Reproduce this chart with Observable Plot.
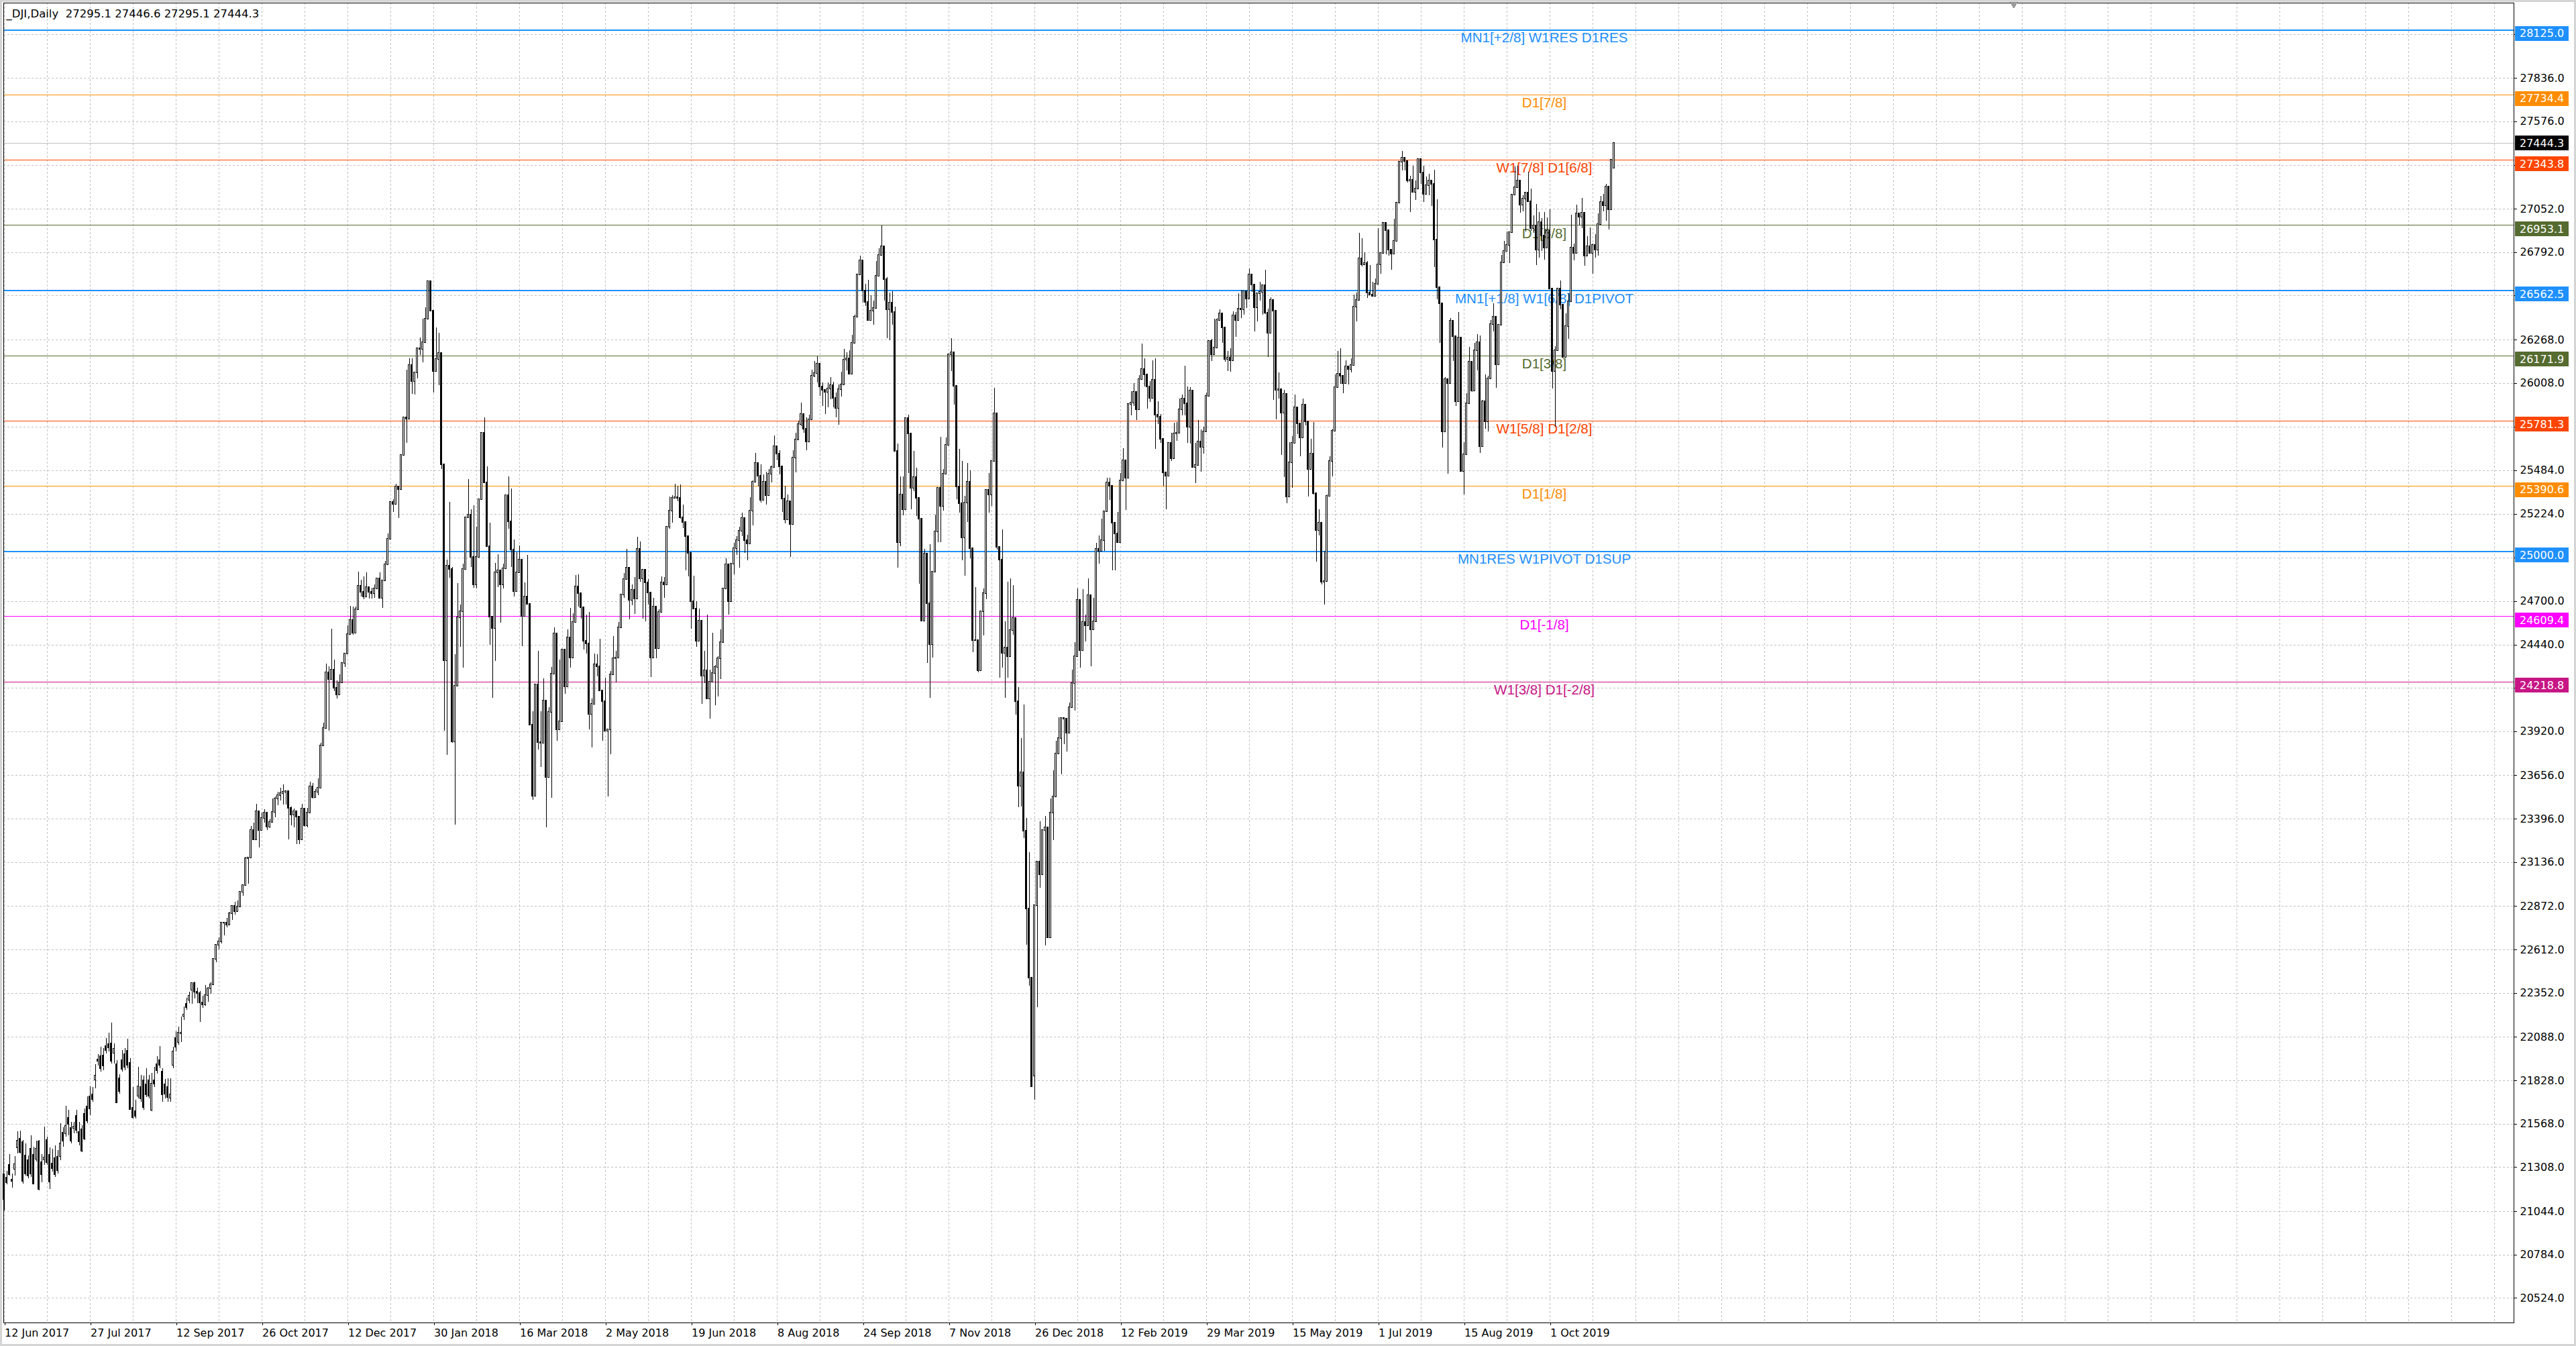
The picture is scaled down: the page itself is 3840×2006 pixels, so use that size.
<!DOCTYPE html>
<html>
<head>
<meta charset="utf-8">
<script src="https://cdn.jsdelivr.net/npm/d3@7"></script>
<script src="https://cdn.jsdelivr.net/npm/@observablehq/plot@0.6"></script>
<style>
  html, body { margin: 0; padding: 0; background: #ffffff; overflow: hidden; }
  #chart svg { display: block; outline: 3px solid #d4d4d4; outline-offset: -3px; }
</style>
</head>
<body>
<div id="chart"></div>
<script>
// ---------- DATA ----------
const titleText = "_DJI,Daily\u00a0\u00a027295.1 27446.6 27295.1 27444.3";

// Daily bars [open, high, low, close], one per trading bar, in chart order
const bars2017 = [
[21264,21264,21050,21117],[21244,21285,21204,21218],[21321,21385,21258,21265],[21233,21271,21187,21224],[21298,21374,21258,21325],
[21425,21523,21392,21466],[21479,21526,21390,21399],[21459,21470,21210,21224],[21378,21450,21258,21271],[21352,21380,21240,21258],
[21419,21498,21250,21271],[21383,21432,21204,21211],[21358,21468,21340,21419],[21463,21472,21171,21177],[21338,21385,21218,21267],
[21356,21553,21320,21365],[21470,21492,21320,21338],[21383,21425,21177,21222],[21329,21419,21280,21302],[21361,21439,21250,21267],
[21372,21412,21270,21291],[21374,21570,21350,21452],[21513,21546,21432,21466],[21510,21674,21490,21557],[21603,21653,21499,21569],
[21542,21580,21450,21468],[21543,21580,21510,21553],[21616,21653,21510,21530],[21517,21580,21440,21463],[21535,21560,21400,21405],
[21627,21660,21470,21479],[21670,21734,21570,21586],[21731,21794,21620,21660],[21745,21790,21700,21714],[21831,21924,21781,21855],
[21952,21986,21915,21946],[21973,22029,21882,21902],[21979,22020,21890,21915],[22034,22083,21990,22009],[22045,22112,22000,22026],
[22048,22174,21930,21946],[21992,22049,21929,22016],[21927,21950,21690,21696],[21840,21865,21750,21765],[21949,22009,21880,21898],
[21985,22022,21890,21908],[22005,22076,21900,21919],[21935,21962,21653,21656],[21663,21788,21600,21609],[21643,21710,21600,21616],
[21737,21908,21720,21794],[21788,21861,21700,21721],[21830,21855,21653,21667],[21804,21902,21730,21745],[21830,21860,21720,21737],
[21653,21871,21643,21810],[21828,21908,21790,21808],[21924,21975,21870,21888],[21949,22032,21900,21922],[21879,21900,21700,21745],
[21804,21836,21720,21750],[21790,21841,21700,21727],[21725,21841,21700,21744],[21919,22030,21900,22002],[22080,22123,22000,22029],
[22059,22150,22040,22116],[22110,22210,22056,22112],[22213,22270,22190,22221],[22287,22324,22250,22268],[22311,22360,22290,22335],
[22370,22413,22286,22412],[22412,22419,22321,22359],[22359,22382,22290,22350],[22350,22365,22179,22296],[22296,22336,22262,22284],
[22284,22399,22274,22341],[22341,22386,22299,22381],[22381,22415,22347,22405],[22405,22557,22405,22557],[22557,22642,22535,22642],
[22642,22685,22612,22661],[22661,22777,22649,22775],[22775,22779,22698,22774],[22774,22803,22745,22761],[22761,22839,22761,22831],
[22831,22873,22791,22873],[22873,22899,22821,22841],[22841,22905,22841,22871],[22871,22961,22871,22957],[22957,23003,22934,22997],
[22997,23167,22997,23158],[23158,23163,23006,23163],[23163,23353,23163,23329],[23329,23372,23270,23274],[23274,23485,23274,23442],
[23442,23442,23223,23330],[23330,23433,23330,23401],[23401,23451,23373,23434],[23434,23434,23327,23349],[23349,23393,23342,23377],
[23377,23519,23377,23436],[23436,23531,23405,23517],[23517,23557,23478,23539],[23539,23581,23505,23549],[23549,23602,23483,23557],
[23557,23565,23482,23563],[23563,23563,23271,23462],[23462,23468,23355,23422],[23422,23455,23346,23440],[23440,23440,23242,23410],
[23410,23410,23242,23272],[23272,23485,23272,23458],[23458,23458,23349,23358],[23358,23460,23344,23431],[23431,23617,23431,23591],
[23591,23608,23516,23527],[23527,23573,23527,23558],[23558,23638,23538,23580],[23580,23849,23580,23836],[23836,23970,23836,23940],
[23940,24327,23940,24272],[24272,24308,23922,24232],[24232,24534,24232,24290],[24290,24349,24161,24181],[24181,24224,24115,24140],
[24140,24262,24140,24212],[24212,24330,24212,24329],[24329,24388,24306,24386],[24386,24553,24386,24504],[24504,24671,24504,24585],
[24585,24669,24500,24509],[24509,24668,24509,24652],[24652,24876,24652,24792],[24792,24828,24726,24754],[24754,24850,24710,24726],
[24726,24874,24726,24782],[24782,24784,24715,24754],[24754,24778,24715,24746],[24746,24800,24719,24775],[24775,24840,24774,24838],
[24838,24872,24719,24719]
];
const bars2018 = [
[24719,24824,24660,24824],[24824,24942,24822,24922],[24922,25105,24922,25075],[25075,25299,25075,25296],[25296,25311,25236,25283],
[25283,25405,25283,25386],[25386,25386,25199,25370],[25370,25575,25370,25575],[25575,25804,25575,25803],[25803,26086,25648,25792],
[25792,26153,25792,26116],[26116,26154,25943,26017],[26017,26072,25939,26072],[26072,26215,26033,26215],[26215,26280,26177,26211],
[26211,26392,26129,26252],[26252,26459,26250,26393],[26393,26617,26393,26617],[26617,26617,26435,26440],[26440,26440,25950,26077],
[26077,26338,26077,26149],[26149,26306,25995,26187],[26187,26187,25490,25521],[25521,25521,23923,24346],[24346,24947,23778,24913],
[24913,25294,24842,24893],[24893,24904,23850,23860],[23860,24382,23360,24191],[24191,24809,24191,24601],[24601,24681,24424,24640],
[24640,24924,24301,24893],[24893,25203,24893,25201],[25201,25433,25198,25219],[25219,25251,24904,24965],[24965,25273,24779,24798],
[24798,25145,24777,24963],[24963,25310,24963,25310],[25310,25710,25310,25710],[25710,25800,25406,25410],[25410,25506,25024,25029],
[25029,25170,24437,24608],[24608,24608,24122,24538],[24538,24929,24340,24874],[24874,24981,24785,24884],[24884,24884,24569,24801],
[24801,24923,24776,24895],[24895,25336,24895,25336],[25336,25449,25132,25179],[25179,25376,24906,25008],[25008,25070,24726,24759],
[24759,24992,24759,24874],[24874,25034,24874,24947],[24947,24947,24430,24611],[24611,24812,24611,24727],[24727,24977,24683,24683],
[24683,24683,23958,23958],[23958,24040,23510,23533],[23533,24202,23533,24202],[24202,24402,23810,23857],[23857,24038,23708,23849],
[23849,24237,23849,24103],[24103,24103,23344,23644],[23644,24066,23644,24034],[24034,24305,23523,24264],[24264,24541,24264,24505],
[24505,24505,23863,23933],[23933,24351,23933,23979],[23979,24408,23979,24408],[24408,24408,24146,24190],[24190,24532,24190,24483],
[24483,24660,24302,24360],[24360,24626,24360,24573],[24573,24858,24573,24786],[24786,24859,24667,24748],[24748,24748,24594,24665],
[24665,24665,24411,24463],[24463,24621,24385,24448],[24448,24636,23930,24024],[24024,24116,23824,24084],[24084,24386,24084,24323],
[24323,24382,24250,24311],[24311,24475,24163,24163],[24163,24163,23863,24100],[24100,24243,23925,23925],[23925,23930,23531,23930],
[23930,24280,23782,24263],[24263,24491,24263,24357],[24357,24400,24212,24361],[24361,24576,24361,24543],[24543,24742,24543,24740],
[24740,24868,24721,24831],[24831,25012,24831,24900],[24900,24900,24589,24706],[24706,24800,24674,24769],[24769,24846,24622,24714],
[24714,25086,24714,25013],[25013,25057,24815,24835],[24835,24889,24596,24887],[24887,24887,24577,24812],[24812,24832,24679,24753],
[24753,24753,24246,24362],[24362,24720,24362,24668],[24668,24668,24359,24416],[24416,24653,24416,24635],[24635,24848,24635,24814],
[24814,24844,24720,24800],[24800,25146,24800,25146],[25146,25326,25134,25241],[25241,25336,25171,25317],[25317,25402,25317,25323],
[25323,25392,25297,25320],[25320,25400,25195,25201],[25201,25278,25137,25175],[25175,25175,24884,25090],[25090,25090,24848,24988],
[24988,24988,24533,24701],[24701,24853,24650,24657],[24657,24698,24424,24462],[24462,24657,24462,24581],[24581,24581,24084,24253],
[24253,24401,24207,24284],[24284,24618,24117,24117],[24117,24288,23997,24216],[24216,24509,24216,24271],[24271,24317,24077,24307],
[24307,24369,24130,24357],[24357,24530,24234,24456],[24456,24777,24456,24776],[24776,24957,24776,24920],[24920,24920,24620,24700],
[24700,24925,24700,24925],[24925,25051,24859,25019],[25019,25088,24977,25064],[25064,25144,24900,25120],[25120,25232,25090,25199],
[25199,25199,24990,25065],[25065,25098,24946,25044],[25044,25324,25044,25242],[25242,25423,25153,25415],[25415,25587,25415,25528],
[25528,25532,25387,25451],[25451,25521,25292,25307],[25307,25458,25307,25415],[25415,25477,25280,25333],[25333,25490,25333,25463],
[25463,25512,25410,25502],[25502,25692,25502,25629],[25629,25634,25542,25584],[25584,25606,25459,25509],[25509,25509,25236,25313],
[25313,25389,25164,25188],[25188,25340,25188,25300],[25300,25300,24965,25162],[25162,25604,25162,25559],[25559,25710,25470,25669],
[25669,25781,25669,25759],[25759,25888,25750,25822],[25822,25822,25709,25733],[25733,25801,25605,25656],[25656,25819,25656,25790],
[25790,26086,25790,26050],[26050,26137,26041,26065],[26065,26167,26010,26124],[26124,26124,25928,25987],[25987,26009,25868,25965],
[25965,25965,25822,25953],[25953,26010,25861,25975],[25975,26044,25910,25996],[25996,26013,25860,25917],[25917,25948,25800,25857],
[25857,25997,25758,25971],[25971,26073,25924,25999],[25999,26211,25999,26145],[26145,26193,26081,26155],[26155,26202,26062,26062],
[26062,26294,26062,26247],[26247,26415,26247,26406],[26406,26657,26406,26657],[26657,26770,26657,26744],[26744,26744,26490,26562],
[26562,26602,26467,26492],[26492,26626,26385,26385],[26385,26534,26385,26440],[26440,26499,26358,26458],[26458,26738,26458,26651],
[26651,26813,26651,26774],[26774,26952,26774,26828],[26828,26828,26501,26628],[26628,26641,26277,26447],[26447,26551,26262,26487],
[26487,26559,26356,26431],[26431,26466,25599,25599],[25599,25643,24899,25053],[25053,25447,25030,25340],[25340,25446,25216,25250],
[25250,25799,25250,25798],[25798,25819,25468,25706],[25706,25706,25250,25380],[25380,25599,25358,25444],[25444,25500,25210,25317],
[25317,25317,24804,25192],[25192,25194,24583,24583],[24583,25014,24583,24985],[24985,24985,24329,24688],[24688,25040,24122,24443],
[24443,24875,24363,24875],[24875,25217,24875,25116],[25116,25380,25053,25380],[25380,25683,25054,25271],[25271,25492,25244,25462],
[25462,25680,25462,25636],[25636,26181,25636,26181],[26181,26277,26079,26191],[26191,26191,25877,25989],[25989,25989,25310,25388],
[25388,25614,25231,25287],[25287,25541,24946,25081],[25081,25329,24851,25290],[25290,25526,25173,25414],[25414,25482,24957,25018],
[25018,25018,24394,24465],[24465,24782,24465,24465],[24465,24466,24274,24286],[24286,24640,24286,24640],[24640,24774,24493,24749],
[24749,25366,24712,25366],[25366,25468,25230,25339],[25339,25538,25269,25538],[25538,25980,25538,25826],[25826,25826,25011,25027],
[25027,25027,24242,24947],[24947,25128,24301,24389],[24389,24579,24122,24423],[24423,24817,24241,24371],[24371,24835,24371,24527],
[24527,24795,24500,24597],[24597,24597,24018,24101],[24101,24185,23464,23592],[23592,23881,23470,23675],[23675,24080,23282,23324],
[23324,23400,22640,22859],[22859,23195,22397,22445],[22445,22445,21792,21792],[21857,22878,21712,22878],[22878,23139,22267,23139],
[23139,23381,22981,23062],[23062,23333,23062,23327]
];
const bars2019 = [
[23327,23413,22638,23346],[23346,23346,22686,22686],[22686,23518,22686,23433],[23433,23687,23266,23531],[23531,23865,23531,23787],
[23787,24002,23787,23879],[23879,24004,23662,24001],[24001,24001,23842,23996],[23996,23996,23798,23910],[23910,24092,23910,24066],
[24066,24288,24066,24207],[24207,24456,24044,24370],[24370,24777,24370,24706],[24706,24706,24301,24405],[24405,24772,24405,24575],
[24575,24617,24457,24554],[24554,24835,24554,24737],[24737,24737,24309,24529],[24529,24721,24529,24580],[24580,25048,24580,25015],
[25015,25093,24923,24999],[24999,25193,24999,25064],[25064,25239,25000,25239],[25239,25440,25239,25411],[25411,25441,25307,25391],
[25391,25391,24883,25169],[25169,25169,24883,25106],[25106,25233,25053,25053],[25053,25467,25053,25425],[25425,25618,25425,25544],
[25544,25544,25248,25439],[25439,25883,25439,25883],[25883,25959,25812,25891],[25891,26005,25869,25954],[25954,25954,25787,25851],
[25851,26053,25851,26031],[26031,26242,26031,26092],[26092,26156,25986,26057],[26057,26057,25854,25986],[25986,26019,25893,25916],
[25916,26143,25916,26026],[26026,26155,25611,25819],[25819,25896,25762,25806],[25806,25821,25650,25673],[25673,25673,25393,25473],
[25473,25473,25252,25450],[25450,25650,25450,25650],[25650,25710,25541,25555],[25555,25768,25555,25703],[25703,25772,25659,25709],
[25709,25914,25709,25849],[25849,25936,25812,25914],[25914,26110,25814,25887],[25887,25986,25648,25746],[25746,25982,25645,25963],
[25963,25963,25502,25502],[25502,25649,25409,25516],[25516,25787,25516,25658],[25658,25730,25476,25626],[25626,25745,25582,25717],
[25717,25949,25717,25929],[25929,26258,25929,26258],[26258,26270,26140,26180],[26180,26393,26180,26218],[26218,26396,26218,26385],
[26385,26447,26385,26425],[26425,26425,26247,26341],[26341,26341,26136,26150],[26150,26200,26080,26157],[26157,26216,26075,26143],
[26143,26435,26143,26412],[26412,26432,26285,26384],[26384,26545,26384,26453],[26453,26565,26395,26450],[26450,26559,26416,26559],
[26559,26559,26455,26512],[26512,26695,26512,26656],[26656,26656,26552,26598],[26598,26598,26314,26462],[26462,26551,26375,26543],
[26543,26615,26502,26554],[26554,26596,26417,26593],[26593,26687,26420,26430],[26430,26454,26164,26308],[26308,26521,26308,26505],
[26505,26505,25905,26439],[26439,26439,25788,25965],[25965,26071,25912,25968],[25968,25968,25574,25829],[25829,25965,25444,25942],
[25942,25942,25285,25325],[25325,25653,25325,25532],[25532,25689,25378,25648],[25648,25939,25648,25863],[25863,25863,25700,25764],
[25764,25764,25566,25680],[25680,25913,25680,25877],[25877,25877,25751,25776],[25776,25776,25328,25490],[25490,25672,25490,25586],
[25586,25774,25339,25348],[25348,25348,24938,25127],[25127,25249,25092,25170],[25170,25170,24800,24815],[24815,25001,24680,24820],
[24820,25339,24820,25332],[25332,25569,25332,25540],[25540,25732,25448,25720],[25720,26058,25720,25984],[25984,26200,25984,26062],
[26062,26217,26004,26049],[26049,26049,25945,26005],[26005,26142,26005,26107],[26107,26107,25998,26090],[26090,26156,26071,26113],
[26113,26536,26113,26466],[26466,26549,26375,26504],[26504,26907,26504,26753],[26753,26875,26706,26719],[26719,26789,26714,26727],
[26727,26738,26518,26548],[26548,26712,26537,26537],[26537,26613,26526,26527],[26527,26632,26527,26600],[26600,26934,26600,26718],
[26718,26787,26662,26787],[26787,26966,26787,26966],[26966,26966,26777,26922],[26922,26922,26772,26806],[26806,26806,26685,26784],
[26784,26990,26784,26860],[26860,27089,26860,27088],[27088,27332,27088,27332],[27332,27398,27282,27359],[27359,27359,27281,27336],
[27336,27336,27210,27220],[27220,27250,27030,27223],[27223,27310,27150,27154],[27154,27220,27102,27172],[27172,27350,27172,27350],
[27350,27350,27199,27270],[27270,27310,27090,27141],[27141,27245,27141,27192],[27192,27261,27131,27222],[27222,27222,27069,27199],
[27199,27286,26700,26865],[26865,27106,26508,26583],[26583,26583,26249,26485],[26485,26485,25620,25718],[25718,26042,25718,26030],
[26030,26030,25463,26008],[26008,26395,26008,26379],[26379,26379,26137,26287],[26287,26287,25868,25897],[25897,26432,25897,26280],
[26280,26280,25477,25479],[25479,25653,25339,25579],[25579,25945,25579,25886],[25886,26223,25886,26135],[26135,26135,25955,25962],
[25962,26246,25962,26202],[26202,26298,26081,26252],[26252,26290,25588,25629],[25629,25905,25629,25899],[25899,26058,25732,25778],
[25778,26051,25715,26036],[26036,26383,26036,26362],[26362,26483,26316,26403],[26403,26403,25978,26118],[26118,26360,26118,26355],
[26355,26776,26355,26728],[26728,26859,26728,26797],[26797,26915,26797,26835],[26835,26909,26727,26909],[26909,27137,26909,27137],
[27137,27306,27137,27182],[27182,27307,27182,27220],[27220,27220,27026,27076],[27076,27131,27037,27111],[27111,27147,26914,27147],
[27147,27272,27095,27095],[27095,27172,26920,26935],[26935,27012,26906,26950],[26950,27079,26715,26808],[26808,27033,26760,26971],
[26971,26996,26797,26891],[26891,27030,26747,26820],[26820,26998,26820,26917],[26917,27047,26573,26573],[26573,26573,25974,26079],
[26079,26227,25743,26202],[26202,26575,26202,26573],[26573,26622,26450,26478],[26478,26478,26164,26165],[26165,26425,26165,26347],
[26347,26544,26270,26497],[26497,27017,26497,26817],[26817,26842,26743,26787],[26787,27074,26787,27025],[27025,27025,26952,27002],
[27002,27117,26937,27026],[27026,27026,26710,26770],[26770,26887,26770,26828],[26828,26939,26786,26788],[26788,26841,26660,26834],
[26834,26900,26757,26806],[26806,27024,26771,26958],[26958,27130,26958,27091],[27091,27140,27036,27071],[27071,27200,26980,27186],
[27186,27186,26925,27046],[27046,27347,27046,27347],[27295.1,27446.6,27295.1,27444.3]
];

// Level lines (Murrey-style) : price, text, colour
const levelPrices = [28125.0, 27734.4, 27343.8, 26953.1, 26562.5, 26171.9, 25781.3, 25390.6, 25000.0, 24609.4, 24218.8];
const levelNames  = ["MN1[+2/8] W1RES D1RES", "D1[7/8]", "W1[7/8] D1[6/8]", "D1[5/8]", "MN1[+1/8] W1[6/8] D1PIVOT",
                     "D1[3/8]", "W1[5/8] D1[2/8]", "D1[1/8]", "MN1RES W1PIVOT D1SUP", "D1[-1/8]", "W1[3/8] D1[-2/8]"];
const levelColors = ["#1e90ff", "#ff8c00", "#ff4500", "#556b2f", "#1e90ff", "#556b2f", "#ff4500", "#ff8c00", "#1e90ff", "#ff00ff", "#c71585"];
const levelWidths = [2, 1, 1, 1, 2, 1, 1, 1, 2, 1, 1];
const levelLabelBar = 574;      // bar where the level texts are centred
const currentPrice = 27444.3;
const shiftMarkerBar = 749;

// Axes
const yTicks = [28096, 27836, 27576, 27312, 27052, 26792, 26532, 26268, 26008, 25744, 25484, 25224, 24960, 24700,
                24440, 24180, 23920, 23656, 23396, 23136, 22872, 22612, 22352, 22088, 21828, 21568, 21308, 21044, 20784, 20524];
const hiddenTickLabels = [28096, 27312, 26532, 25744, 24960, 24180];   // covered by the price tags
const dateTicks  = [0, 32, 64, 96, 128, 160, 192, 224, 256, 288, 320, 352, 384, 416, 448, 480, 512, 544, 576];
const dateLabels = ["12 Jun 2017", "27 Jul 2017", "12 Sep 2017", "26 Oct 2017", "12 Dec 2017", "30 Jan 2018", "16 Mar 2018",
                    "2 May 2018", "19 Jun 2018", "8 Aug 2018", "24 Sep 2018", "7 Nov 2018", "26 Dec 2018", "12 Feb 2019",
                    "29 Mar 2019", "15 May 2019", "1 Jul 2019", "15 Aug 2019", "1 Oct 2019"];
const gridStepBars = 16;

// ---------- BUILD ----------
const bars = [...bars2017, ...bars2018, ...bars2019].map(([o, h, l, c], i) => ({i, o, h: Math.max(h, o, c), l: Math.min(l, o, c), c}));
const levels = levelPrices.map((v, k) => ({v, name: levelNames[k], color: levelColors[k], w: levelWidths[k]}));

const W = 3840, H = 2006;
const mL = 5, mR = 93, mT = 4, mB = 35;
const xDomain = [-0.125, -0.125 + (W - mL - mR) / 4];
const yDomain = [20377, 28286];
const gridBars = d3.range(0, xDomain[1], gridStepBars);
const labelText = (k) => dateLabels[dateTicks.indexOf(k)];
const visibleYTicks = yTicks.filter(t => !hiddenTickLabels.includes(t));

const chart = Plot.plot({
  width: W, height: H,
  marginLeft: mL, marginRight: mR, marginTop: mT, marginBottom: mB,
  style: {fontFamily: "DejaVu Sans", fontSize: "16px", background: "#ffffff", overflow: "visible", shapeRendering: "crispEdges"},
  x: {domain: xDomain},
  y: {domain: yDomain},
  marks: [
    Plot.gridX(gridBars, {stroke: "#c0c0c0", strokeOpacity: 1, strokeDasharray: "3,3"}),
    Plot.gridY(yTicks, {stroke: "#c0c0c0", strokeOpacity: 1, strokeDasharray: "3,3"}),
    Plot.ruleY([currentPrice], {stroke: "#c0c0c0", strokeWidth: 1}),
    Plot.ruleY(levels.filter(d => d.w === 1), {y: "v", stroke: "color", strokeWidth: 1}),
    Plot.ruleY(levels.filter(d => d.w === 2), {y: "v", stroke: "color", strokeWidth: 2}),
    Plot.text(levels, {x: () => levelLabelBar, y: "v", text: "name", fill: "color", fontFamily: "Liberation Sans",
      fontSize: 20.6, textAnchor: "middle", lineAnchor: "top", dy: 4}),
    Plot.ruleX(bars, {x: "i", y1: "l", y2: "h", stroke: "#000000", strokeWidth: 1}),
    Plot.rect(bars, {x1: d => d.i - 0.25, x2: d => d.i + 0.25, y1: "o", y2: "c",
      fill: d => (d.c >= d.o ? "#ffffff" : "#000000"), stroke: "#000000", strokeWidth: 1,
      insetTop: -0.5, insetBottom: -0.5}),
    Plot.axisY({anchor: "right", ticks: visibleYTicks, tickFormat: d => d.toFixed(1), tickSize: 4, tickPadding: 5,
      fontSize: 16, fill: "#000000", label: null}),
    Plot.axisX({anchor: "bottom", ticks: dateTicks, tickFormat: labelText, tickSize: 4, tickPadding: 5,
      textAnchor: "start", dx: 1, fontSize: 16, fill: "#000000", label: null}),
    Plot.frame({stroke: "#000000", strokeWidth: 1}),
    Plot.text([titleText], {frameAnchor: "top-left", dx: 4, dy: 10, textAnchor: "start", lineAnchor: "top",
      fontSize: 16.5, fill: "#000000"}),
    Plot.dot([shiftMarkerBar], {x: d => d, frameAnchor: "top", symbol: "triangle", rotate: 180, r: 5,
      fill: "#9a9a9a", stroke: null, dy: 1})
  ]
});

// Price tags on the right price scale, positioned with Plot's own y scale
const yScale = chart.scale("y");
const tagX = W - mR + 2, tagW = 80, tagH = 22;
const tags = levels.map(d => ({v: d.v, color: d.color, off: 5.5}))
  .concat([{v: currentPrice, color: "#000000", off: 0}]);
const g = d3.select(chart).append("g").attr("class", "price-tags").attr("text-anchor", "start");
// short tick marks for the ticks whose labels are covered by tags
for (const t of hiddenTickLabels) {
  const ty = Math.round(yScale.apply(t)) + 0.5;
  g.append("line").attr("x1", W - mR).attr("x2", W - mR + 4).attr("y1", ty).attr("y2", ty).attr("stroke", "#000000");
}
for (const t of tags) {
  const cy = yScale.apply(t.v) + t.off;
  g.append("rect").attr("x", tagX).attr("y", cy - tagH / 2).attr("width", tagW).attr("height", tagH).attr("fill", t.color);
  g.append("text").attr("x", tagX + 7).attr("y", cy).attr("dy", "0.36em").attr("text-anchor", "start")
    .attr("fill", "#ffffff").attr("font-family", "DejaVu Sans").attr("font-size", 16)
    .text(t.v.toFixed(1));
}

document.getElementById("chart").appendChild(chart);
</script>
</body>
</html>
